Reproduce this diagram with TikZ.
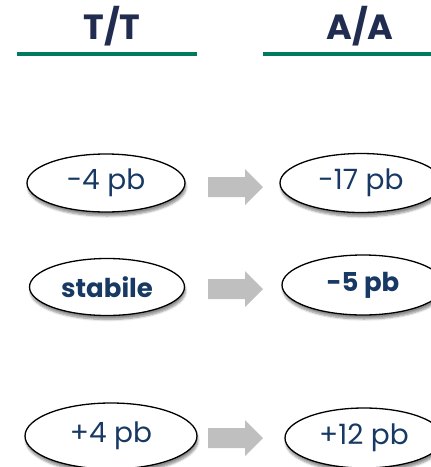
\documentclass[tikz,border=0pt]{standalone}
\usepackage{fontspec}
\setmainfont{Poppins}
\usetikzlibrary{shapes.geometric,shadows.blur}
\definecolor{hdr}{RGB}{33,45,80}
\definecolor{txt}{RGB}{23,57,100}
\definecolor{tealrule}{RGB}{0,122,94}
\definecolor{arrgray}{RGB}{191,191,191}
\begin{document}
\begin{tikzpicture}[x=1pt,y=-1pt,
  oval/.style={ellipse, draw=black, line width=1.3pt, fill=white, inner sep=0pt,
    text=txt, font=\fontsize{28}{32}\selectfont,
    blur shadow={shadow xshift=1pt, shadow yshift=-4pt, shadow blur steps=6, shadow opacity=45}},
  boldtxt/.style={font=\fontsize{26}{30}\selectfont\bfseries},
  head/.style={text=hdr, font=\fontsize{35}{40}\selectfont\bfseries},
  rulebar/.style={draw=tealrule, line width=4pt},
  garrow/.pic={\fill[arrgray] (0,-10) -- (37,-10) -- (37,-18) -- (55,0) -- (37,18) -- (37,10) -- (0,10) -- cycle;}]
\useasboundingbox (0,0) rectangle (431,467);
\clip (0,0) rectangle (431,467);
% headers
\node[head] (tt) at (112,26) {T/T};
\node[head] (aa) at (360,26) {A/A};
\draw[rulebar] (17,54) -- (197,54);
\draw[rulebar] (263,54) -- (431,54);
% row 1
\node[oval, minimum width=158pt, minimum height=58pt] (l1) at (106,183) {\raisebox{-2pt}{-4 pb}};
\node[oval, minimum width=162pt, minimum height=59pt] (r1) at (361,183) {\raisebox{-2pt}{-17 pb}};
\pic at (208,187) {garrow};
% row 2
\node[oval, boldtxt, minimum width=155pt, minimum height=57pt] (l2) at (107,287) {\raisebox{-1pt}{stabile}};
\node[oval, boldtxt, minimum width=162pt, minimum height=60pt] (r2) at (363,285) {\raisebox{-3pt}{-5 pb}};
\pic at (208,289) {garrow};
% row 3
\node[oval, minimum width=172pt, minimum height=66pt] (l3) at (111,436) {\raisebox{-2pt}{+4 pb}};
\node[oval, minimum width=158pt, minimum height=60pt] (r3) at (364,438) {\raisebox{-2pt}{+12 pb}};
\pic at (208,438) {garrow};
\end{tikzpicture}
\end{document}
